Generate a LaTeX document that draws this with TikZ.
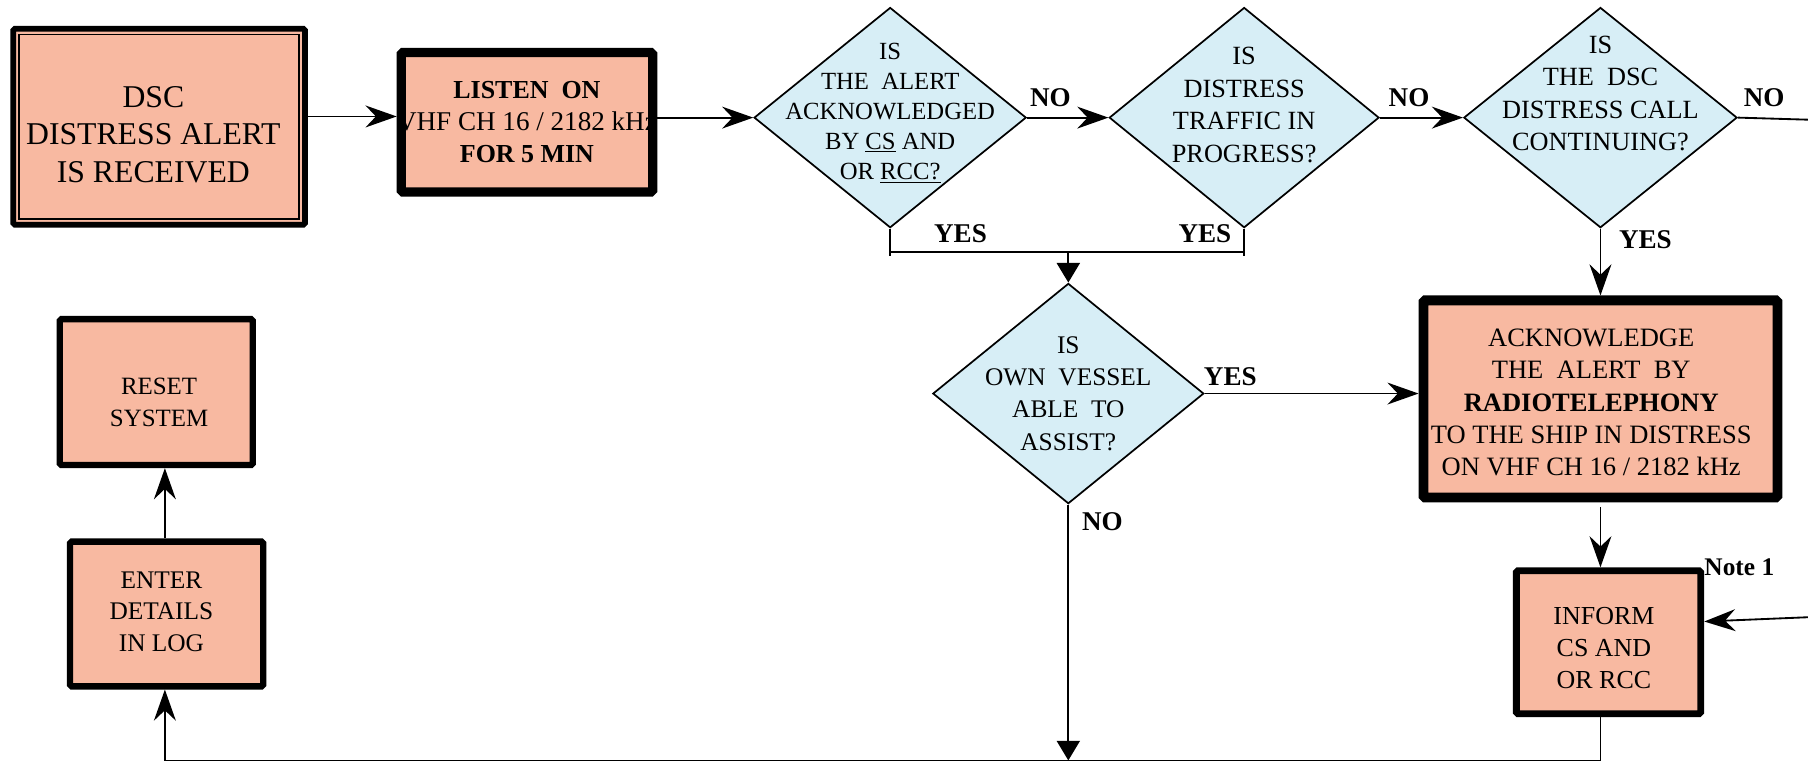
\documentclass[tikz,border=0pt]{standalone}
\usepackage{fontspec}
\setmainfont{Liberation Serif}
\usetikzlibrary{shapes.geometric, arrows.meta}
\definecolor{salmon}{RGB}{248,185,161}
\definecolor{paleblue}{RGB}{215,238,246}

\begin{document}
\begin{tikzpicture}[
      x=1pt, y=-1pt,
      every node/.style={align=center, inner sep=0pt},
      box/.style={draw, fill=salmon, rounded corners=1.5pt, line width=5.5pt},
      decision/.style={draw, diamond, fill=paleblue, line width=1.5pt},
      boxtext/.style={font=\fontsize{22.5}{28}\selectfont},
      tag/.style={font=\fontsize{23.5}{24}\selectfont\bfseries},
      note/.style={font=\fontsize{22}{24}\selectfont\bfseries},
      link/.style={line width=1.6pt},
      flow/.style={link, -{Stealth[length=27pt, width=19pt, inset=9pt]}},
      drop/.style={link, -{Triangle[length=17pt, width=20pt]}},
    ]
      \useasboundingbox (0,0) rectangle (1568,661.7);

      \node[box, line width=5pt, minimum width=253pt, minimum height=170pt,
        label={[boxtext, font=\fontsize{27.5}{32.5}\selectfont, xshift=-5pt, yshift=-6.5pt]center:DSC\\DISTRESS ALERT\\IS RECEIVED}] (dsc) at (138,110) {};
      \draw[line width=1.5pt] ([shift={(7.5pt,-7.5pt)}]dsc.north west) rectangle ([shift={(-7.5pt,7.5pt)}]dsc.south east);
      \node[box, line width=8pt, minimum width=218pt, minimum height=121pt,
        label={[boxtext]center:\textbf{LISTEN\ \ ON}\\{\fontsize{23.5}{28}\selectfont VHF CH 16 / 2182 kHz}\\\textbf{FOR 5 MIN}}] (listen) at (457,106) {};

      \node[decision, minimum width=236pt, minimum height=191pt,
        label={[boxtext, font=\fontsize{21.4}{26}\selectfont, yshift=4pt]center:IS\\THE\ \ ALERT\\ACKNOWLEDGED\\BY \underline{CS} AND\\OR \underline{RCC?}}] (acked) at (772,102) {};
      \node[decision, minimum width=234pt, minimum height=191pt,
        label={[boxtext, font=\fontsize{22.8}{28.5}\selectfont, yshift=11pt]center:IS\\DISTRESS\\TRAFFIC IN\\PROGRESS?}] (traffic) at (1079,102) {};
      \node[decision, minimum width=237pt, minimum height=191pt,
        label={[boxtext, font=\fontsize{22.8}{28}\selectfont, yshift=21pt]center:IS\\THE\ \ DSC\\DISTRESS CALL\\CONTINUING?}] (calling) at (1388,102) {};
      \node[decision, minimum width=235pt, minimum height=191pt,
        label={[boxtext, font=\fontsize{22}{28}\selectfont]center:IS\\OWN\ \ VESSEL\\ABLE\ \ TO\\ASSIST?}] (assist) at (926.5,341.3) {};

      \node[box, line width=8.5pt, minimum width=307pt, minimum height=171pt,
        label={[boxtext, font=\fontsize{23}{28}\selectfont, xshift=-8pt, yshift=-3pt]center:ACKNOWLEDGE\\THE\ \ ALERT\ \ BY\\\textbf{RADIOTELEPHONY}\\TO THE SHIP IN DISTRESS\\ON VHF CH 16 / 2182 kHz}] (reply) at (1388,346) {};
      \node[box, line width=6pt, minimum width=160pt, minimum height=124pt,
        label={[boxtext, xshift=-4pt, yshift=-5pt]center:INFORM\\CS AND\\OR RCC},
        label={[note, anchor=west]north east:Note 1}] (inform) at (1395,557) {};
      \node[box, minimum width=167.5pt, minimum height=126.5pt,
        label={[boxtext, font=\fontsize{21.6}{27}\selectfont, xshift=2.5pt, yshift=-9pt]center:RESET\\SYSTEM}] (reset) at (135.5,340) {};
      \node[box, minimum width=167.5pt, minimum height=125.5pt,
        label={[boxtext, font=\fontsize{22}{27.5}\selectfont, xshift=-4.5pt, yshift=2pt]center:ENTER\\DETAILS\\IN LOG}] (log) at (144.5,532.5) {};

      \node[tag] (no1) at (911,85) {NO};
      \node[tag] (no2) at (1222,85) {NO};
      \node[tag] (no3) at (1530,85) {NO};
      \node[tag] (yes1) at (833,203) {YES};
      \node[tag] (yes2) at (1045,203) {YES};
      \node[tag] (yes3) at (1427,208) {YES};
      \node[tag] (yes4) at (1067,327) {YES};
      \node[tag] (no4) at (956,452) {NO};

      \coordinate (join) at (926.5,218.5);
      \coordinate (corner) at (143,659.5);
      \coordinate (offnorth) at (1575,104);
      \coordinate (offsouth) at (1575,535);

      \draw[flow] ([yshift=9pt]dsc.east) -- ([yshift=5pt]listen.west);
      \draw[flow] (listen.east |- acked.west) -- (acked.west);
      \draw[flow] (acked.east) -- (traffic.west);
      \draw[flow] (traffic.east) -- (calling.west);
      \draw[link] (calling.east) -- (offnorth);
      \draw[flow] (calling.south) -- (reply.north);
      \draw[flow, shorten <=4pt] (reply.south) -- (reply.south |- inform.north);
      \draw[flow] (offsouth) -- ([yshift=18pt]inform.east);
      \draw[link] (acked.south) -- ++(0,24) (traffic.south) -- ++(0,24)
        ([xshift=-1pt]acked.south |- join) -- ([xshift=1pt]traffic.south |- join);
      \draw[drop] (join) -- (assist.north);
      \draw[flow] (assist.east) -- (assist.east -| reply.west);
      \draw[drop] (assist.south) -- (assist.south |- corner);
      \draw[flow] (reply.south |- inform.south) |- (corner) -- (corner |- log.south);
      \draw[flow] (corner |- log.north) -- (corner |- reset.south);
\end{tikzpicture}
\end{document}
